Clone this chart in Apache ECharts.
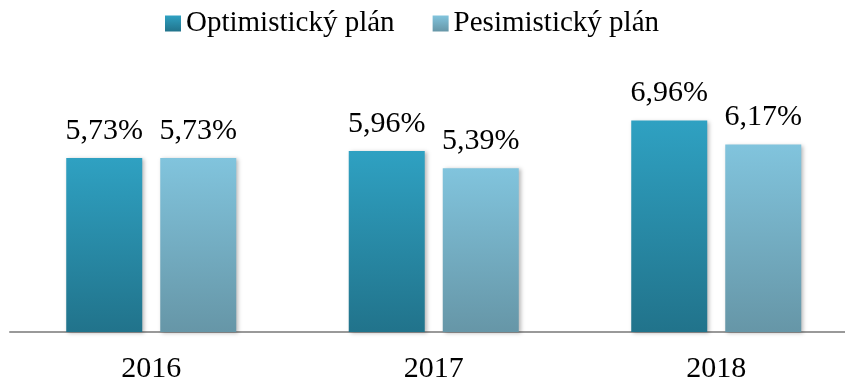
<!DOCTYPE html>
<html>
<head>
<meta charset="utf-8">
<script src="https://cdn.jsdelivr.net/npm/echarts@6/dist/echarts.min.js"></script>
<style>
  html, body { margin: 0; padding: 0; background: #fff; }
  #chart { width: 845px; height: 383px; }
</style>
</head>
<body>
<div id="chart"></div>
<script>
// Annual growth rates under the two planning scenarios
const years = ['2016', '2017', '2018'];
const optimisticValues = [5.73, 5.96, 6.96];
const pessimisticValues = [5.73, 5.39, 6.17];
const seriesNames = ['Optimistický plán', 'Pesimistický plán'];

const FONT = '"Liberation Serif", "Times New Roman", serif';

function vGrad(top, bottom) {
  return new echarts.graphic.LinearGradient(0, 0, 0, 1, [
    { offset: 0, color: top },
    { offset: 1, color: bottom }
  ]);
}

const optColor = vGrad('#2fa1c2', '#21738b');
const pesColor = vGrad('#81c4dd', '#6696a7');

const fmt = p => p.value.toFixed(2).replace('.', ',') + '%';

const barStyle = color => ({
  color: color,
  shadowColor: 'rgba(0,0,0,0.28)',
  shadowBlur: 4,
  shadowOffsetX: 2,
  shadowOffsetY: 1
});

const labelStyle = {
  show: true,
  position: 'top',
  distance: 12,
  formatter: fmt,
  fontFamily: FONT,
  fontSize: 30,
  color: '#000'
};

const chart = echarts.init(document.getElementById('chart'), null, { renderer: 'canvas' });
chart.setOption({
  animation: false,
  backgroundColor: '#fff',
  legend: {
    data: seriesNames,
    left: 165,
    top: 9,
    padding: 0,
    itemWidth: 16,
    itemHeight: 16,
    itemGap: 38,
    icon: 'rect',
    textStyle: { fontFamily: FONT, fontSize: 29, color: '#000', padding: [0, 0, 0, 0] }
  },
  // the plot runs slightly past the right edge of the canvas
  grid: {
    left: 10, width: 847.5, top: 89, bottom: 51,
    containLabel: false,
    outerBoundsMode: 'none'
  },
  xAxis: {
    type: 'category',
    data: years,
    axisTick: { show: false },
    axisLine: { lineStyle: { color: '#999999', width: 2 } },
    axisLabel: { fontFamily: FONT, fontSize: 30, color: '#000', margin: 22 }
  },
  yAxis: {
    type: 'value',
    min: 0,
    max: 8,
    show: false,
    splitLine: { show: false }
  },
  series: [
    {
      name: seriesNames[0],
      type: 'bar',
      data: optimisticValues,
      barWidth: 76,
      barGap: '23.7%',
      itemStyle: barStyle(optColor),
      label: labelStyle
    },
    {
      name: seriesNames[1],
      type: 'bar',
      data: pessimisticValues,
      barWidth: 76,
      barGap: '23.7%',
      itemStyle: barStyle(pesColor),
      label: labelStyle
    }
  ]
});
</script>
</body>
</html>
